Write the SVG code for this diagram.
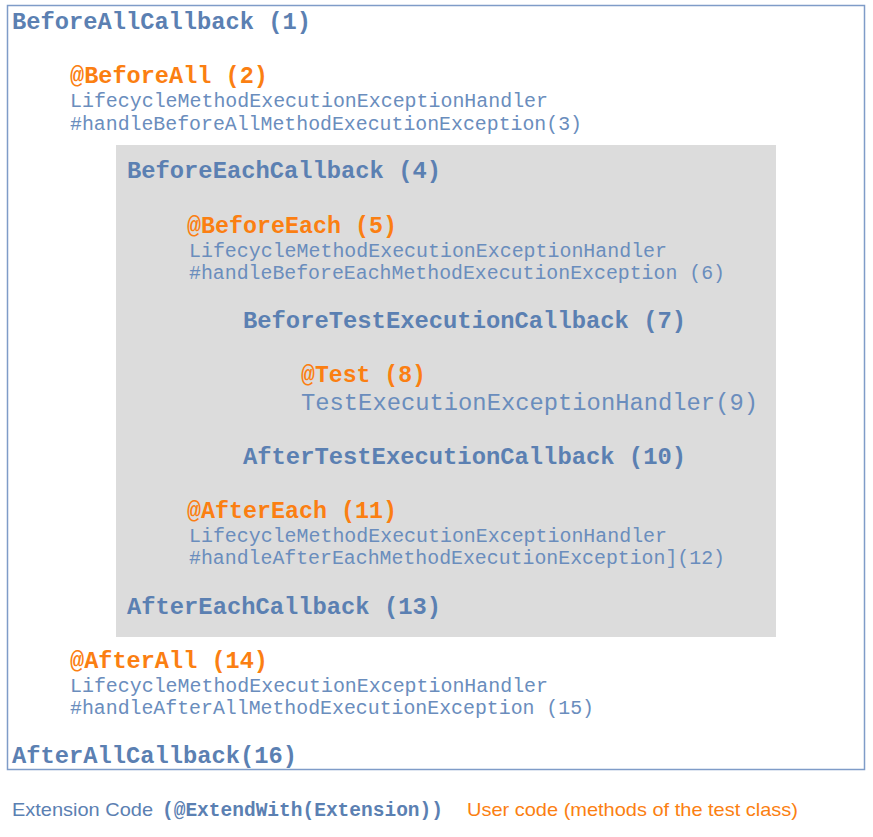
<svg xmlns="http://www.w3.org/2000/svg" width="873" height="837" viewBox="0 0 873 837">
<style>
.b{font-family:"Liberation Mono","Courier New",monospace;font-weight:bold;font-size:23.5px;fill:#5b80b2}
.o{font-family:"Liberation Mono","Courier New",monospace;font-weight:bold;font-size:23.5px;fill:#fb7f12}
.r{font-family:"Liberation Mono","Courier New",monospace;font-size:20px;fill:#6a8dbd}
.r2{font-family:"Liberation Mono","Courier New",monospace;font-size:23.5px;fill:#6a8dbd}
.s{font-family:"Liberation Sans",Arial,sans-serif;font-size:18.5px}
</style>
<rect width="873" height="837" fill="#ffffff"/>
<g id="beforeAllScope">
<rect x="7.5" y="5.5" width="857" height="764" fill="#ffffff" stroke="#7f9cc8" stroke-width="1.5"/>
</g>
<g id="beforeEachScope">
<rect x="116" y="145" width="660" height="492" fill="#dcdcdc"/>
</g>
<g id="n1"><text class="b" x="12" y="29" textLength="299" lengthAdjust="spacingAndGlyphs">BeforeAllCallback (1)</text></g>
<g id="n2"><text class="o" x="70" y="83" textLength="198" lengthAdjust="spacingAndGlyphs">@BeforeAll (2)</text></g>
<g id="n3">
<text class="r" x="70" y="107" textLength="478" lengthAdjust="spacingAndGlyphs">LifecycleMethodExecutionExceptionHandler</text>
<text class="r" x="70" y="130" textLength="512" lengthAdjust="spacingAndGlyphs">#handleBeforeAllMethodExecutionException(3)</text>
</g>
<g id="n4"><text class="b" x="127" y="178" textLength="314" lengthAdjust="spacingAndGlyphs">BeforeEachCallback (4)</text></g>
<g id="n5"><text class="o" x="187" y="233" textLength="210" lengthAdjust="spacingAndGlyphs">@BeforeEach (5)</text></g>
<g id="n6">
<text class="r" x="189" y="257" textLength="478" lengthAdjust="spacingAndGlyphs">LifecycleMethodExecutionExceptionHandler</text>
<text class="r" x="189" y="279" textLength="536" lengthAdjust="spacingAndGlyphs">#handleBeforeEachMethodExecutionException (6)</text>
</g>
<g id="n7"><text class="b" x="243" y="328" textLength="443" lengthAdjust="spacingAndGlyphs">BeforeTestExecutionCallback (7)</text></g>
<g id="n8"><text class="o" x="301" y="382" textLength="125" lengthAdjust="spacingAndGlyphs">@Test (8)</text></g>
<g id="n9"><text class="r2" x="301" y="410" textLength="457" lengthAdjust="spacingAndGlyphs">TestExecutionExceptionHandler(9)</text></g>
<g id="n10"><text class="b" x="243" y="464" textLength="443" lengthAdjust="spacingAndGlyphs">AfterTestExecutionCallback (10)</text></g>
<g id="n11"><text class="o" x="187" y="518" textLength="210" lengthAdjust="spacingAndGlyphs">@AfterEach (11)</text></g>
<g id="n12">
<text class="r" x="189" y="542" textLength="478" lengthAdjust="spacingAndGlyphs">LifecycleMethodExecutionExceptionHandler</text>
<text class="r" x="189" y="564" textLength="536" lengthAdjust="spacingAndGlyphs">#handleAfterEachMethodExecutionException](12)</text>
</g>
<g id="n13"><text class="b" x="127" y="614" textLength="314" lengthAdjust="spacingAndGlyphs">AfterEachCallback (13)</text></g>
<g id="n14"><text class="o" x="70" y="668" textLength="198" lengthAdjust="spacingAndGlyphs">@AfterAll (14)</text></g>
<g id="n15">
<text class="r" x="70" y="692" textLength="478" lengthAdjust="spacingAndGlyphs">LifecycleMethodExecutionExceptionHandler</text>
<text class="r" x="70" y="714" textLength="524" lengthAdjust="spacingAndGlyphs">#handleAfterAllMethodExecutionException (15)</text>
</g>
<g id="n16"><text class="b" x="12" y="763" textLength="285" lengthAdjust="spacingAndGlyphs">AfterAllCallback(16)</text></g>
<g id="legend">
<text class="s" x="12" y="816" fill="#5b80b2" textLength="141" lengthAdjust="spacingAndGlyphs">Extension Code</text>
<text class="b" x="162" y="816" style="font-size:19.5px" textLength="281" lengthAdjust="spacingAndGlyphs">(@ExtendWith(Extension))</text>
<text class="s" x="467" y="816" fill="#fb7f12" textLength="331" lengthAdjust="spacingAndGlyphs">User code (methods of the test class)</text>
</g>
</svg>
